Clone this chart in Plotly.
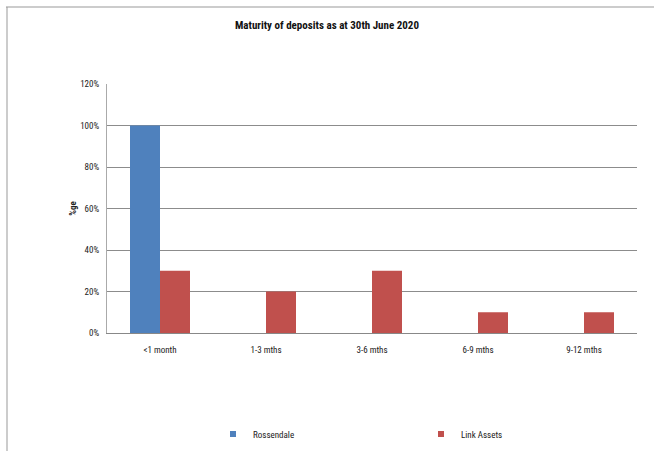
import plotly.graph_objects as go

categories = ["<1 month", "1-3 mths", "3-6 mths", "6-9 mths", "9-12 mths"]
rossendale = [1.00, 0, 0, 0, 0]
link_assets = [0.30, 0.20, 0.30, 0.10, 0.10]
y_ticks = [0, 0.2, 0.4, 0.6, 0.8, 1.0, 1.2]
y_tick_labels = ["0%", "20%", "40%", "60%", "80%", "100%", "120%"]
series_names = ["Rossendale", "Link Assets"]
series_colors = ["#4F81BD", "#C0504D"]

FONT = "Liberation Sans Narrow, Arial Narrow, Roboto Condensed, Liberation Sans, sans-serif"

fig = go.Figure()
for name, vals, col in zip(series_names, [rossendale, link_assets], series_colors):
    fig.add_trace(go.Bar(x=categories, y=vals, name=name, showlegend=False,
                         marker=dict(color=col, line=dict(width=0))))
# legend entries with small square swatches
for name, col in zip(series_names, series_colors):
    fig.add_trace(go.Scatter(x=[None], y=[None], mode="markers", name=name,
                             marker=dict(symbol="square", size=6, color=col)))

L, R, T, B = 107, 637, 84, 333
W, H = 654, 451
pw, ph = R - L, B - T

def px(x):
    return (x - L) / pw

def py(y):
    return (B - y) / ph

fig.update_layout(
    width=W, height=H,
    margin=dict(l=L, r=W - R, t=T, b=H - B, autoexpand=False),
    paper_bgcolor="white", plot_bgcolor="white",
    barmode="group", bargap=0.434, bargroupgap=0,
    font=dict(family=FONT, size=9, color="#222"),
    title=dict(text="<b>Maturity of deposits as at 30th June 2020</b>",
               x=0.5, xanchor="center", y=1 - 25 / H, yanchor="middle",
               font=dict(family=FONT, size=11, color="#111")),
    xaxis=dict(showgrid=False, showline=True, linecolor="#888", linewidth=1,
               ticks="", tickfont=dict(size=9), ticklabelstandoff=8),
    yaxis=dict(range=[0, 1.2], tickvals=y_ticks, ticktext=y_tick_labels,
               showgrid=True, gridcolor="#8c8c8c", gridwidth=1,
               showline=True, linecolor="#aaa", linewidth=1,
               zeroline=False, ticks="", tickfont=dict(size=9), ticklabelstandoff=5,
               title=dict(text="<b>%ge</b>", font=dict(size=9), standoff=2)),
    legend=dict(orientation="h", xref="container", x=213 / W, xanchor="left",
                yref="container", y=1 - 434 / H, yanchor="middle",
                entrywidth=163, entrywidthmode="pixels", itemwidth=30,
                font=dict(size=9), traceorder="normal", bgcolor="rgba(0,0,0,0)"),
    showlegend=True,
    shapes=[
        dict(type="line", xref="paper", yref="paper", x0=px(6), x1=px(654),
             y0=py(7), y1=py(7), line=dict(color="#999", width=1)),
        dict(type="line", xref="paper", yref="paper", x0=px(7), x1=px(7),
             y0=py(7), y1=py(451), line=dict(color="#999", width=1)),
    ],
)

fig.write_html("out.html", config={"displayModeBar": False},
               post_script="document.body.style.margin='0';document.body.style.overflow='hidden';")
